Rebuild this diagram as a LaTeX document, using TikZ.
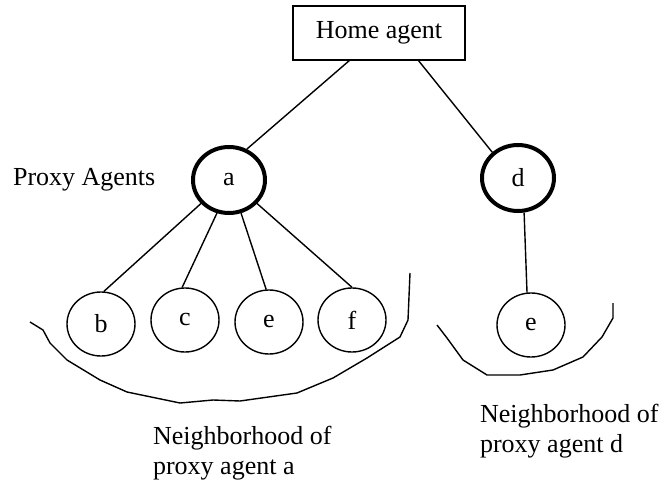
\documentclass[tikz,border=0pt]{standalone}
\usepackage{fontspec}
\setmainfont{Liberation Serif}
\usetikzlibrary{shapes.geometric}
\begin{document}
\begin{tikzpicture}[x=0.5pt,y=-0.5pt,
  lbl/.style={font=\fontsize{13}{15}\selectfont},
  proxy/.style={ellipse,draw,line width=2pt,minimum width=36pt,minimum height=33pt,inner sep=0pt,lbl},
  nbr/.style={ellipse,draw,line width=0.7pt,minimum width=34pt,minimum height=32pt,inner sep=0pt,lbl},
  home/.style={rectangle,draw,line width=0.7pt,minimum width=86pt,minimum height=27pt,lbl},
  edge/.style={line width=0.7pt},
  curve/.style={line width=0.7pt,line join=round}]
\useasboundingbox (0,0) rectangle (669,486);
\node[home] (home) at (379,33) {Home agent};
\node[proxy] (a) at (229,180) {a};
\node[proxy] (d) at (518,178) {d};
\node[nbr] (b) at (101,324) {b};
\node[nbr] (c) at (185,320) {c};
\node[nbr] (e1) at (269,322) {e};
\node[nbr] (f) at (352,320) {f};
\node[nbr] (e2) at (531,325) {e};
\coordinate (h1) at (350,60);
\coordinate (h2) at (418,60);
\draw[edge] (h1) -- (a.60);
\draw[edge] (h2) -- (d.135);
\draw[edge] (a.220) -- (b.85);
\draw[edge] (a.250) -- (c.95);
\draw[edge] (a.290) -- (e1.95);
\draw[edge] (a.320) -- (f.90);
\draw[edge] (d.280) -- (e2.97);
\draw[curve] (30,322) -- (43,330) -- (50,343) -- (67,360) -- (100,380) -- (127,392) -- (180,403) -- (213,400) -- (240,401) -- (297,393) -- (333,378) -- (367,358) -- (400,337) -- (408,320) -- (410,273);
\draw[curve] (437,325) -- (447,338) -- (463,360) -- (487,375) -- (520,375) -- (553,370) -- (583,357) -- (602,337) -- (613,318) -- (613,303);
\node[lbl,anchor=west] (pa) at (6,180) {Proxy Agents};
\node[lbl,anchor=west,align=left] (na) at (146,453) {Neighborhood of\\ proxy agent a};
\node[lbl,anchor=west,align=left] (nd) at (473,431) {Neighborhood of\\ proxy agent d};
\end{tikzpicture}
\end{document}
